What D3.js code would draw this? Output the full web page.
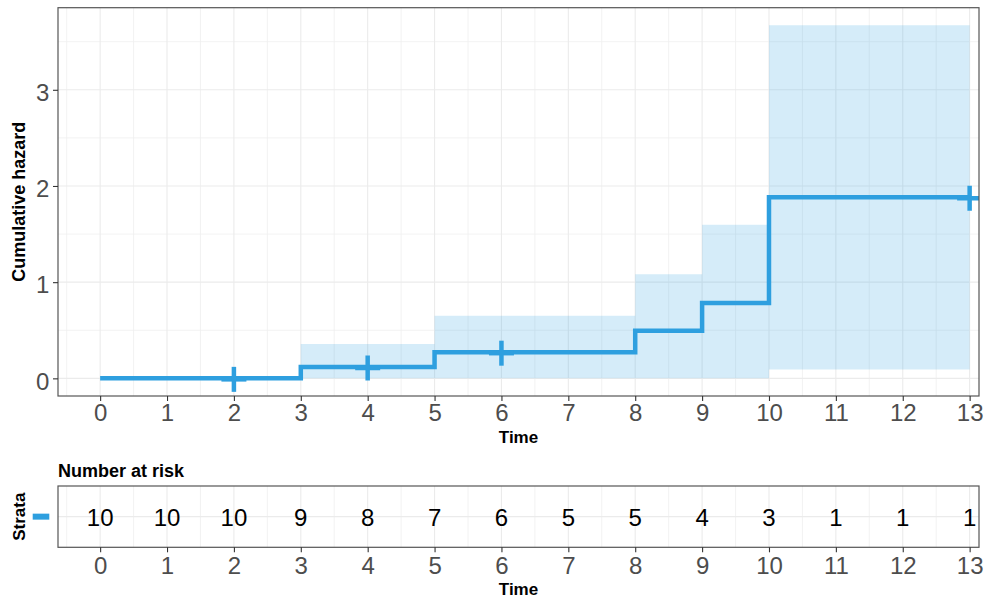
<!DOCTYPE html>
<html>
<head>
<meta charset="utf-8">
<script src="https://cdn.jsdelivr.net/npm/d3@7"></script>
<style>
  html, body { margin: 0; padding: 0; background: #fff; }
  svg { display: block; font-family: "Liberation Sans", Arial, sans-serif; }
</style>
</head>
<body>
<svg id="chart" width="986" height="599"></svg>
<script>
// ---- data ----
const timeTicks = [0, 1, 2, 3, 4, 5, 6, 7, 8, 9, 10, 11, 12, 13];
const hazardTicks = [0, 1, 2, 3];
const stepTimes = [0, 3, 5, 8, 9, 10, 13];
const cumHazard = [0, 0.118, 0.272, 0.495, 0.783, 1.882, 1.882];
const ciUpper   = [0, 0.356, 0.650, 1.083, 1.596, 3.67, 3.67];
const ciLower   = [0, 0.0, 0.0, 0.0, 0.0, 0.092, 0.092];
const censorTimes  = [2, 4, 6, 13];
const censorHazard = [0, 0.118, 0.272, 1.882];
const riskTimes  = [0, 1, 2, 3, 4, 5, 6, 7, 8, 9, 10, 11, 12, 13];
const riskCounts = [10, 10, 10, 9, 8, 7, 6, 5, 5, 4, 3, 1, 1, 1];

const lineColor = "#2E9FDF";
const svg = d3.select("#chart");

// ---- layout ----
const P = { left: 58, right: 979, top: 7.7, bottom: 396 };
const R = { top: 486, bottom: 547.3 };

const x = d3.scaleLinear().domain([-0.63, 13.14]).range([P.left, P.right]);
const y = d3.scaleLinear().domain([-0.1835, 3.8535]).range([P.bottom, P.top]);
const yr = d3.scaleLinear().domain([0.5, 1.5]).range([R.bottom, R.top]);

// clip
svg.append("defs").append("clipPath").attr("id", "clipMain")
  .append("rect").attr("x", P.left).attr("y", P.top)
  .attr("width", P.right - P.left).attr("height", P.bottom - P.top);

// ---- main panel grid ----
const gGrid = svg.append("g");
const xMinor = d3.range(-0.5, 13.2, 1);
const yMinor = [0.5, 1.5, 2.5, 3.5];
gGrid.selectAll(".xmin").data(xMinor).join("line")
  .attr("x1", d => x(d)).attr("x2", d => x(d)).attr("y1", P.top).attr("y2", P.bottom)
  .attr("stroke", "#efefef").attr("stroke-width", 0.8);
gGrid.selectAll(".ymin").data(yMinor).join("line")
  .attr("x1", P.left).attr("x2", P.right).attr("y1", d => y(d)).attr("y2", d => y(d))
  .attr("stroke", "#efefef").attr("stroke-width", 0.8);
gGrid.selectAll(".xmaj").data(timeTicks).join("line")
  .attr("x1", d => x(d)).attr("x2", d => x(d)).attr("y1", P.top).attr("y2", P.bottom)
  .attr("stroke", "#ebebeb").attr("stroke-width", 1.1);
gGrid.selectAll(".ymaj").data(hazardTicks).join("line")
  .attr("x1", P.left).attr("x2", P.right).attr("y1", d => y(d)).attr("y2", d => y(d))
  .attr("stroke", "#ebebeb").attr("stroke-width", 1.1);

// ---- ribbon + step line ----
const pts = stepTimes.map((t, i) => ({ t, h: cumHazard[i], lo: ciLower[i], hi: ciUpper[i] }));
const gMain = svg.append("g").attr("clip-path", "url(#clipMain)");
gMain.append("path").datum(pts)
  .attr("d", d3.area().curve(d3.curveStepAfter).x(d => x(d.t)).y0(d => y(d.lo)).y1(d => y(d.hi)))
  .attr("fill", lineColor).attr("fill-opacity", 0.2);
gMain.append("path").datum(pts)
  .attr("d", d3.line().curve(d3.curveStepAfter).x(d => x(d.t)).y(d => y(d.h)))
  .attr("fill", "none").attr("stroke", lineColor).attr("stroke-width", 4.5)
  .attr("stroke-linejoin", "miter").attr("stroke-linecap", "butt");

// censor marks
const cens = censorTimes.map((t, i) => ({ t, h: censorHazard[i] }));
const gc = gMain.selectAll(".cens").data(cens).join("g")
  .attr("transform", d => `translate(${x(d.t)},${y(d.h) + 1})`);
gc.append("line").attr("x1", -12.5).attr("x2", 12.5).attr("y1", 0).attr("y2", 0)
  .attr("stroke", lineColor).attr("stroke-width", 4.5);
gc.append("line").attr("x1", 0).attr("x2", 0).attr("y1", -12.5).attr("y2", 12.5)
  .attr("stroke", lineColor).attr("stroke-width", 4.5);

// border
svg.append("rect").attr("x", P.left).attr("y", P.top)
  .attr("width", P.right - P.left).attr("height", P.bottom - P.top)
  .attr("fill", "none").attr("stroke", "#555").attr("stroke-width", 1.2);

// ---- axes (main) ----
function styleAxis(g, color) {
  g.select(".domain").remove();
  g.selectAll(".tick line").attr("stroke", "#333").attr("stroke-width", 1.1);
  g.selectAll(".tick text").attr("fill", color || "#4d4d4d")
    .style("font-size", "24px").style("font-family", "'Liberation Sans', Arial, sans-serif");
}
const gx = svg.append("g").attr("transform", `translate(0,${P.bottom})`)
  .call(d3.axisBottom(x).tickValues(timeTicks).tickFormat(d3.format("d")).tickSize(5).tickPadding(3.3));
styleAxis(gx);
const gy = svg.append("g").attr("transform", `translate(${P.left},0)`)
  .call(d3.axisLeft(y).tickValues(hazardTicks).tickFormat(d3.format("d")).tickSize(5).tickPadding(3.7));
styleAxis(gy);
gy.selectAll(".tick text").attr("dy", "0.45em");

svg.append("text").attr("x", (P.left + P.right) / 2).attr("y", 443.3)
  .attr("text-anchor", "middle").attr("font-weight", "bold").attr("font-size", 17)
  .attr("fill", "#000").text("Time");
svg.append("text").attr("transform", `translate(25,${(P.top + P.bottom) / 2}) rotate(-90)`)
  .attr("text-anchor", "middle").attr("font-weight", "bold").attr("font-size", 18)
  .attr("fill", "#000").text("Cumulative hazard");

// ---- risk table ----
svg.append("text").attr("x", P.left).attr("y", 476.7)
  .attr("font-weight", "bold").attr("font-size", 18).attr("fill", "#000").text("Number at risk");

const gR = svg.append("g");
gR.selectAll(".rxmin").data(xMinor).join("line")
  .attr("x1", d => x(d)).attr("x2", d => x(d)).attr("y1", R.top).attr("y2", R.bottom)
  .attr("stroke", "#efefef").attr("stroke-width", 0.8);
gR.selectAll(".rxmaj").data(timeTicks).join("line")
  .attr("x1", d => x(d)).attr("x2", d => x(d)).attr("y1", R.top).attr("y2", R.bottom)
  .attr("stroke", "#ebebeb").attr("stroke-width", 1.1);
gR.append("line").attr("x1", P.left).attr("x2", P.right).attr("y1", yr(1)).attr("y2", yr(1))
  .attr("stroke", "#ebebeb").attr("stroke-width", 1.1);

gR.selectAll(".rn").data(riskTimes.map((t, i) => ({ t, n: riskCounts[i] }))).join("text")
  .attr("x", d => x(d.t)).attr("y", yr(1) + 9.6)
  .attr("text-anchor", "middle").attr("font-size", 24).attr("fill", "#000")
  .text(d => d.n);

svg.append("rect").attr("x", P.left).attr("y", R.top)
  .attr("width", P.right - P.left).attr("height", R.bottom - R.top)
  .attr("fill", "none").attr("stroke", "#555").attr("stroke-width", 1.2);

const gxr = svg.append("g").attr("transform", `translate(0,${R.bottom})`)
  .call(d3.axisBottom(x).tickValues(timeTicks).tickFormat(d3.format("d")).tickSize(5).tickPadding(5));
styleAxis(gxr);

svg.append("text").attr("x", (P.left + P.right) / 2).attr("y", 595)
  .attr("text-anchor", "middle").attr("font-weight", "bold").attr("font-size", 17)
  .attr("fill", "#000").text("Time");

// strata legend
svg.append("line").attr("x1", 32.7).attr("x2", 49.3).attr("y1", yr(1)).attr("y2", yr(1))
  .attr("stroke", lineColor).attr("stroke-width", 6);
svg.append("text").attr("transform", `translate(25,${yr(1)}) rotate(-90)`)
  .attr("text-anchor", "middle").attr("font-weight", "bold").attr("font-size", 17)
  .attr("fill", "#000").text("Strata");
</script>
</body>
</html>
